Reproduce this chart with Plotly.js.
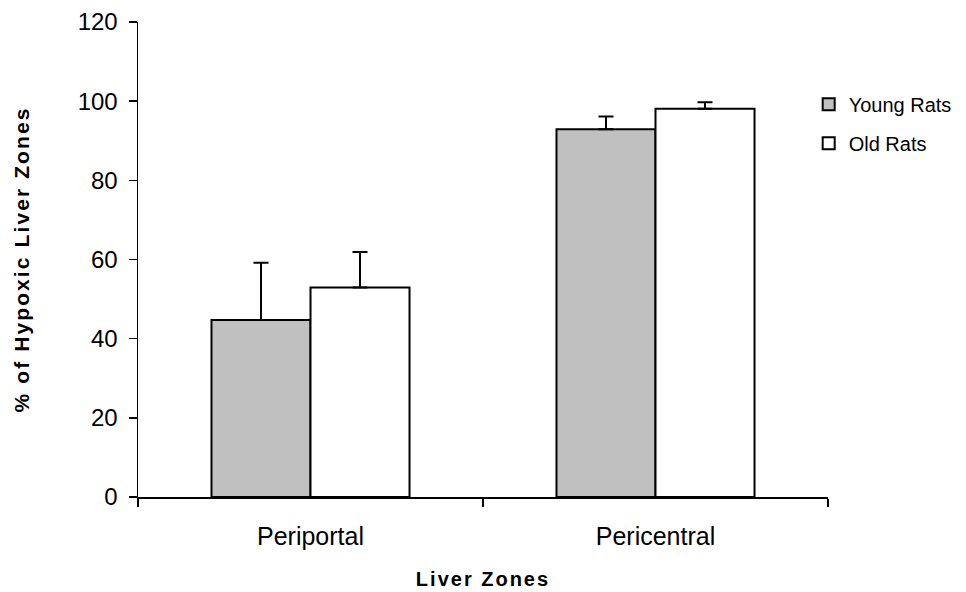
<!DOCTYPE html>
<html>
<head>
<meta charset="utf-8">
<script src="https://cdn.plot.ly/plotly-3.0.1.min.js"></script>
<style>
  html, body { margin: 0; padding: 0; background: #fff; }
  #chart { width: 966px; height: 592px; }
  .g-xtitle text { letter-spacing: 2px; }
  .g-ytitle text { letter-spacing: 2.1px; }
</style>
</head>
<body>
<div id="chart"></div>
<script>
// Data
const categories = ["Periportal", "Pericentral"];
const seriesNames = ["Young Rats", "Old Rats"];
const youngValues = [44.7, 92.9];
const youngErrors = [14.5, 3.2];
const oldValues = [52.9, 98.1];
const oldErrors = [9.0, 1.6];
const yTickValues = [0, 20, 40, 60, 80, 100, 120];
const xTitle = "Liver Zones";
const yTitle = "% of Hypoxic Liver Zones";

const FONT = "Liberation Sans, Arial, Helvetica, sans-serif";

function errBar(arr) {
  return {
    type: "data",
    array: arr,
    arrayminus: arr.map(() => 0),
    symmetric: false,
    visible: true,
    color: "#000000",
    thickness: 2,
    width: 7.5
  };
}

const traces = [
  {
    type: "bar",
    name: seriesNames[0],
    legendgroup: "g1",
    x: categories,
    y: youngValues,
    marker: { color: "#C0C0C0", line: { color: "#000000", width: 2 } },
    error_y: errBar(youngErrors),
    hoverinfo: "none"
  },
  {
    type: "bar",
    name: seriesNames[1],
    legendgroup: "g2",
    x: categories,
    y: oldValues,
    marker: { color: "#FFFFFF", line: { color: "#000000", width: 2 } },
    error_y: errBar(oldErrors),
    hoverinfo: "none"
  }
];

const layout = {
  width: 966,
  height: 592,
  paper_bgcolor: "#FFFFFF",
  plot_bgcolor: "#FFFFFF",
  margin: { l: 138, r: 138, t: 22, b: 94.5, pad: 0, autoexpand: false },
  barmode: "group",
  bargap: 0.426,
  bargroupgap: 0,
  font: { family: FONT, color: "#000000", size: 25 },
  showlegend: true,
  legend: {
    x: 0.972,
    y: 0.868,
    xanchor: "left",
    yanchor: "top",
    font: { family: FONT, size: 20, color: "#000000" },
    bgcolor: "rgba(0,0,0,0)",
    borderwidth: 0,
    traceorder: "grouped",
    tracegroupgap: 10,
    itemwidth: 30
  },
  xaxis: {
    type: "category",
    showline: true,
    linecolor: "#000000",
    linewidth: 1.5,
    ticks: "outside",
    tickson: "boundaries",
    ticklen: 8,
    tickwidth: 1.5,
    tickcolor: "#000000",
    showgrid: false,
    zeroline: false,
    tickfont: { family: FONT, size: 25, color: "#000000" },
    ticklabelstandoff: 16,
    title: {
      text: xTitle,
      font: { family: FONT, size: 20, color: "#000000", weight: "bold" },
      standoff: 23
    }
  },
  yaxis: {
    range: [0, 120],
    tickvals: yTickValues,
    ticktext: yTickValues.map(String),
    showline: true,
    linecolor: "#000000",
    linewidth: 1.5,
    ticks: "outside",
    ticklen: 8,
    tickwidth: 1.5,
    tickcolor: "#000000",
    showgrid: false,
    zeroline: false,
    tickfont: { family: FONT, size: 24, color: "#000000" },
    ticklabelstandoff: 6,
    title: {
      text: yTitle,
      font: { family: FONT, size: 21, color: "#000000", weight: "bold" },
      standoff: 42
    }
  }
};

Plotly.newPlot("chart", traces, layout, { staticPlot: true, displayModeBar: false });
</script>
</body>
</html>
